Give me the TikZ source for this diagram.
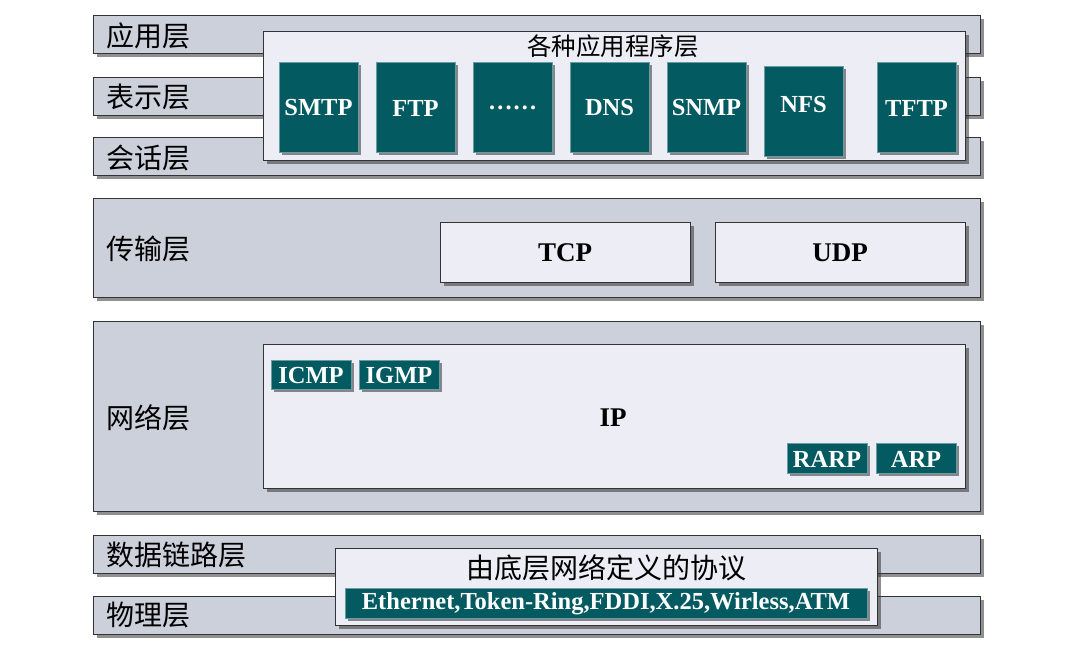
\documentclass[tikz,border=0pt]{standalone}
\usepackage{fontspec}
\setmainfont{Liberation Serif}
\newfontfamily\cjk{Noto Sans CJK SC}
\usetikzlibrary{shadows}
\definecolor{barfill}{HTML}{CBD0DB}
\definecolor{innerfill}{HTML}{ECEDF5}
\definecolor{tealfill}{HTML}{035A60}
\definecolor{edge}{HTML}{333333}
\tikzset{
  box/.style={rectangle, anchor=north west, inner sep=0pt, draw=edge, line width=1pt,
    drop shadow={shadow xshift=3pt, shadow yshift=-3pt, opacity=0.55, fill=black!80}},
  bar/.style={box, fill=barfill},
  inner/.style={box, fill=innerfill},
  tealbox/.style={box, fill=tealfill, draw=tealfill!60!white, line width=0.8pt},
  tealtext/.style={inner sep=0pt, font=\bfseries\fontsize{24.5}{26}\selectfont, text=white},
  lbl/.style={anchor=west, inner sep=0pt, font=\cjk\fontsize{28}{30}\selectfont, text=black},
  big/.style={inner sep=0pt, font=\bfseries\fontsize{27}{29}\selectfont, text=black},
}
\begin{document}
\begin{tikzpicture}[x=1pt,y=-1pt]
\useasboundingbox (0,0) rectangle (1074,656);
% upper bars
\node[bar, minimum width=887pt, minimum height=38pt] (appbar) at (93,15) {};
\node[bar, minimum width=887pt, minimum height=38pt] (prebar) at (93,77) {};
\node[bar, minimum width=887pt, minimum height=38pt] (sesbar) at (93,137) {};
\node[lbl] (applbl) at (106,36) {应用层};
\node[lbl] (prelbl) at (106,97) {表示层};
\node[lbl] (seslbl) at (106,158) {会话层};
% application box
\node[inner, minimum width=702pt, minimum height=129pt] (appbox) at (263,31) {};
\node[lbl, anchor=center, font=\cjk\fontsize{24.5}{27}\selectfont] (apptitle) at (613,46) {各种应用程序层};
\node[tealbox, minimum width=79pt, minimum height=90pt] (smtp) at (279,62) {};
\node[tealbox, minimum width=79pt, minimum height=90pt] (ftp) at (376,62) {};
\node[tealbox, minimum width=79pt, minimum height=90pt] (dots) at (473,62) {};
\node[tealbox, minimum width=79pt, minimum height=90pt] (dns) at (570,62) {};
\node[tealbox, minimum width=79pt, minimum height=90pt] (snmp) at (667,62) {};
\node[tealbox, minimum width=79pt, minimum height=90pt] (nfs) at (764,66) {};
\node[tealbox, minimum width=79pt, minimum height=90pt] (tftp) at (877,62) {};
\node[tealtext] (smtpt) at (318.5,108) {SMTP};
\node[tealtext] (ftpt) at (415.5,108) {FTP};
\node[tealtext] (dotst) at (512.5,108) {……};
\node[tealtext] (dnst) at (609.5,108) {DNS};
\node[tealtext] (snmpt) at (706.5,108) {SNMP};
\node[tealtext] (nfst) at (803.5,105) {NFS};
\node[tealtext] (tftpt) at (916.5,108) {TFTP};
% transport
\node[bar, minimum width=887pt, minimum height=99pt] (trbar) at (93,198) {};
\node[lbl] (trlbl) at (106,249) {传输层};
\node[inner, minimum width=250pt, minimum height=60pt] (tcp) at (440,222) {};
\node[inner, minimum width=250pt, minimum height=60pt] (udp) at (715,222) {};
\node[big] (tcpt) at (565,253) {TCP};
\node[big] (udpt) at (840,253) {UDP};
% network
\node[bar, minimum width=887pt, minimum height=190pt] (netbar) at (93,321) {};
\node[lbl] (netlbl) at (106,418) {网络层};
\node[inner, minimum width=702pt, minimum height=144pt] (ipbox) at (263,344) {};
\node[big] (ipt) at (613,418) {IP};
\node[tealbox, minimum width=80pt, minimum height=29pt] (icmp) at (271,360) {};
\node[tealbox, minimum width=80pt, minimum height=29pt] (igmp) at (359,360) {};
\node[tealbox, minimum width=80pt, minimum height=30pt] (rarp) at (787,443) {};
\node[tealbox, minimum width=80pt, minimum height=30pt] (arp) at (876,443) {};
\node[tealtext] (icmpt) at (311,376) {ICMP};
\node[tealtext] (igmpt) at (399,376) {IGMP};
\node[tealtext] (rarpt) at (827,459) {RARP};
\node[tealtext] (arpt) at (916,459) {ARP};
% link / physical
\node[bar, minimum width=887pt, minimum height=38pt] (dlbar) at (93,535) {};
\node[bar, minimum width=887pt, minimum height=38pt] (phbar) at (93,596) {};
\node[lbl] (dllbl) at (106,555) {数据链路层};
\node[lbl] (phlbl) at (106,615) {物理层};
\node[inner, minimum width=542pt, minimum height=77pt] (protbox) at (335,548) {};
\node[lbl, anchor=center] (prottitle) at (606,568) {由底层网络定义的协议};
\node[tealbox, minimum width=522pt, minimum height=30pt] (eth) at (345,588) {};
\node[tealtext, font=\bfseries\fontsize{24.5}{26}\selectfont] (etht) at (606,604) {Ethernet,Token-Ring,FDDI,X.25,Wirless,ATM};
\end{tikzpicture}
\end{document}
